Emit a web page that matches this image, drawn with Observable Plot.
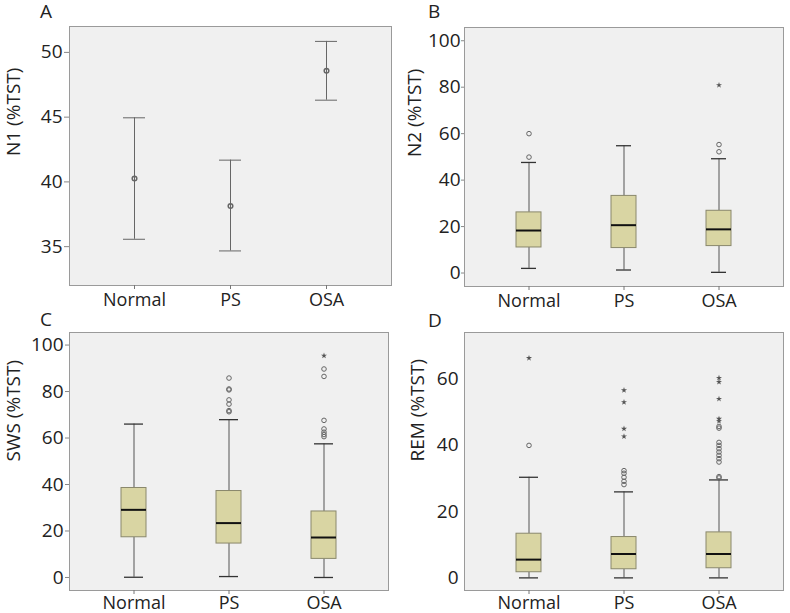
<!DOCTYPE html>
<html>
<head>
<meta charset="utf-8">
<script src="https://cdn.jsdelivr.net/npm/d3@7"></script>
<script src="https://cdn.jsdelivr.net/npm/@observablehq/plot@0.6"></script>
<style>
  html, body { margin: 0; padding: 0; background: #fff; }
  #wrap { position: relative; width: 790px; height: 613px; overflow: hidden; font-family: "Open Sans", sans-serif; color: #222; }
  .panel { position: absolute; }
  .letter { position: absolute; font-size: 19px; line-height: 1; color: #222; }
</style>
</head>
<body>
<div id="wrap"></div>
<script>
const groups = ["Normal", "PS", "OSA"];

// Panel A: N1 mean with 95% CI
const n1Mean = [40.26, 38.14, 48.58];
const n1Low = [35.57, 34.67, 46.31];
const n1High = [44.95, 41.68, 50.85];
const n1Ticks = [35, 40, 45, 50];

// Panel B: N2 boxplot stats (whisker low, Q1, median, Q3, whisker high)
const n2Low = [2.0, 1.3, 0.3];
const n2Q1 = [11.0, 10.75, 11.6];
const n2Median = [18.3, 20.6, 18.8];
const n2Q3 = [26.1, 33.2, 26.8];
const n2High = [47.6, 54.8, 49.2];
const n2Circles = [["Normal", 60.0], ["Normal", 49.9], ["OSA", 55.3], ["OSA", 52.2]];
const n2Stars = [["OSA", 80.9]];
const n2Ticks = [0, 20, 40, 60, 80, 100];

// Panel C: SWS
const swsLow = [0.1, 0.4, 0.0];
const swsQ1 = [17.3, 14.6, 8.0];
const swsMedian = [29.1, 23.4, 17.2];
const swsQ3 = [38.5, 37.2, 28.4];
const swsHigh = [66.0, 67.9, 57.5];
const swsCircles = [["PS", 85.8], ["PS", 81.1], ["PS", 80.7], ["PS", 76.4], ["PS", 74.6], ["PS", 71.8], ["PS", 71.3],
  ["OSA", 89.7], ["OSA", 86.5], ["OSA", 67.6], ["OSA", 63.9], ["OSA", 62.5], ["OSA", 61.5], ["OSA", 60.6]];
const swsStars = [["OSA", 95.4]];
const swsTicks = [0, 20, 40, 60, 80, 100];

// Panel D: REM
const remLow = [0.0, 0.0, 0.0];
const remQ1 = [1.7, 2.6, 2.9];
const remMedian = [5.5, 7.2, 7.2];
const remQ3 = [13.3, 12.3, 13.7];
const remHigh = [30.3, 25.9, 29.5];
const remCircles = [["Normal", 39.9], ["PS", 32.3], ["PS", 31.5], ["PS", 30.3], ["PS", 29.1], ["PS", 28.1],
  ["OSA", 45.6], ["OSA", 45.1], ["OSA", 40.8], ["OSA", 39.9], ["OSA", 38.9], ["OSA", 37.9], ["OSA", 36.9],
  ["OSA", 35.9], ["OSA", 34.9], ["OSA", 30.5], ["OSA", 30.1]];
const remStars = [["Normal", 66.2], ["PS", 56.5], ["PS", 52.9], ["PS", 44.9], ["PS", 42.6],
  ["OSA", 60.2], ["OSA", 59.0], ["OSA", 53.9], ["OSA", 47.9], ["OSA", 47.2]];
const remTicks = [0, 20, 40, 60];

const BG = "#f0f0f0", FRAME = "#9a9a9a", BOXFILL = "#d9d5a3", BOXSTROKE = "#8a886c", LINE = "#555";

function baseStyle() {
  return { background: "transparent", fontFamily: "Open Sans, sans-serif", fontSize: "19px", color: "#222", overflow: "visible" };
}

function xOpts() {
  return { type: "band", domain: groups, paddingInner: 0, paddingOuter: 0.17, label: null, axis: null };
}

function axes(ticks, tickSize, tickPadding, label, dxLabel, xPad) {
  return [
    Plot.axisY({ ticks, tickSize, tickPadding, fontSize: 19, stroke: "#888", fill: "#222", label: null }),
    Plot.axisX({ tickSize: 4, tickPadding: xPad, fontSize: 18, stroke: "#777", fill: "#222", label: null }),
    Plot.text([label], { text: d => d, frameAnchor: "left", rotate: -90, dx: dxLabel, fontSize: 19, fill: "#222" })
  ];
}

function boxPanel(cfg) {
  const rows = groups.map((g, i) => ({ g, low: cfg.low[i], q1: cfg.q1[i], med: cfg.med[i], q3: cfg.q3[i], high: cfg.high[i] }));
  return Plot.plot({
    width: 395, height: cfg.height,
    marginLeft: cfg.ml, marginRight: cfg.mr, marginTop: cfg.mt, marginBottom: cfg.mb,
    style: baseStyle(),
    x: xOpts(),
    y: { domain: cfg.domain, label: null, axis: null },
    marks: [
      Plot.frame({ fill: BG, stroke: FRAME }),
      Plot.ruleX(rows, { x: "g", y1: "low", y2: "q1", stroke: LINE }),
      Plot.ruleX(rows, { x: "g", y1: "q3", y2: "high", stroke: LINE }),
      Plot.tickY(rows, { x: "g", y: "low", stroke: "#333", strokeWidth: 1.3, insetLeft: cfg.capInset, insetRight: cfg.capInset }),
      Plot.tickY(rows, { x: "g", y: "high", stroke: "#333", strokeWidth: 1.3, insetLeft: cfg.capInset, insetRight: cfg.capInset }),
      Plot.barY(rows, { x: "g", y1: "q1", y2: "q3", fill: BOXFILL, stroke: BOXSTROKE, strokeWidth: 1, insetLeft: 35, insetRight: 35 }),
      Plot.tickY(rows, { x: "g", y: "med", stroke: "#111", strokeWidth: 2, insetLeft: 35, insetRight: 35 }),
      Plot.dot(cfg.circles, { x: d => d[0], y: d => d[1], r: 2.3, stroke: "#666", strokeWidth: 1, fill: "none" }),
      Plot.dot(cfg.stars, { x: d => d[0], y: d => d[1], r: 1.9, symbol: "star", fill: "#555", stroke: "none" }),
      ...axes(cfg.ticks, cfg.tickSize, cfg.tickPadding, cfg.label, cfg.dxLabel, cfg.xPad)
    ]
  });
}

function ciPanel() {
  const rows = groups.map((g, i) => ({ g, mean: n1Mean[i], low: n1Low[i], high: n1High[i] }));
  return Plot.plot({
    width: 395, height: 310,
    marginLeft: 69, marginRight: 4, marginTop: 26, marginBottom: 25,
    style: baseStyle(),
    x: xOpts(),
    y: { domain: [32, 52], label: null, axis: null },
    marks: [
      Plot.frame({ fill: BG, stroke: FRAME }),
      Plot.ruleX(rows, { x: "g", y1: "low", y2: "high", stroke: "#666" }),
      Plot.tickY(rows, { x: "g", y: "low", stroke: "#666", insetLeft: 37, insetRight: 37 }),
      Plot.tickY(rows, { x: "g", y: "high", stroke: "#666", insetLeft: 37, insetRight: 37 }),
      Plot.dot(rows, { x: "g", y: "mean", r: 2.3, stroke: "#666", fill: "none" }),
      ...axes(n1Ticks, 5, 2, "N1 (%TST)", -56, 4)
    ]
  });
}

const wrap = document.getElementById("wrap");
function place(node, left, top) {
  const d = document.createElement("div");
  d.className = "panel";
  d.style.left = left + "px";
  d.style.top = top + "px";
  d.appendChild(node);
  wrap.appendChild(d);
}
function letter(t, left, top) {
  const d = document.createElement("div");
  d.className = "letter";
  d.textContent = t;
  d.style.left = left + "px";
  d.style.top = top + "px";
  wrap.appendChild(d);
}

place(ciPanel(), 0, 0);
place(boxPanel({ height: 310, ml: 69, mr: 7, mt: 27, mb: 24, domain: [-5.8, 105.7],
  low: n2Low, q1: n2Q1, med: n2Median, q3: n2Q3, high: n2High, circles: n2Circles, stars: n2Stars,
  ticks: n2Ticks, tickSize: 3, tickPadding: 1, label: "N2 (%TST)", dxLabel: -50, capInset: 40, xPad: 4 }), 395, 0);
place(boxPanel({ height: 313, ml: 69, mr: 7, mt: 32, mb: 23, domain: [-5.6, 105.4],
  low: swsLow, q1: swsQ1, med: swsMedian, q3: swsQ3, high: swsHigh, circles: swsCircles, stars: swsStars,
  ticks: swsTicks, tickSize: 4, tickPadding: 2, label: "SWS (%TST)", dxLabel: -56, capInset: 38, xPad: 2 }), 0, 300);
place(boxPanel({ height: 313, ml: 69, mr: 7, mt: 32, mb: 23, domain: [-3.8, 73.9],
  low: remLow, q1: remQ1, med: remMedian, q3: remQ3, high: remHigh, circles: remCircles, stars: remStars,
  ticks: remTicks, tickSize: 0, tickPadding: 6, label: "REM (%TST)", dxLabel: -47, capInset: 38, xPad: 2 }), 395, 300);

letter("A", 40, 2);
letter("B", 428, 2);
letter("C", 40, 310);
letter("D", 428, 311);
</script>
</body>
</html>
